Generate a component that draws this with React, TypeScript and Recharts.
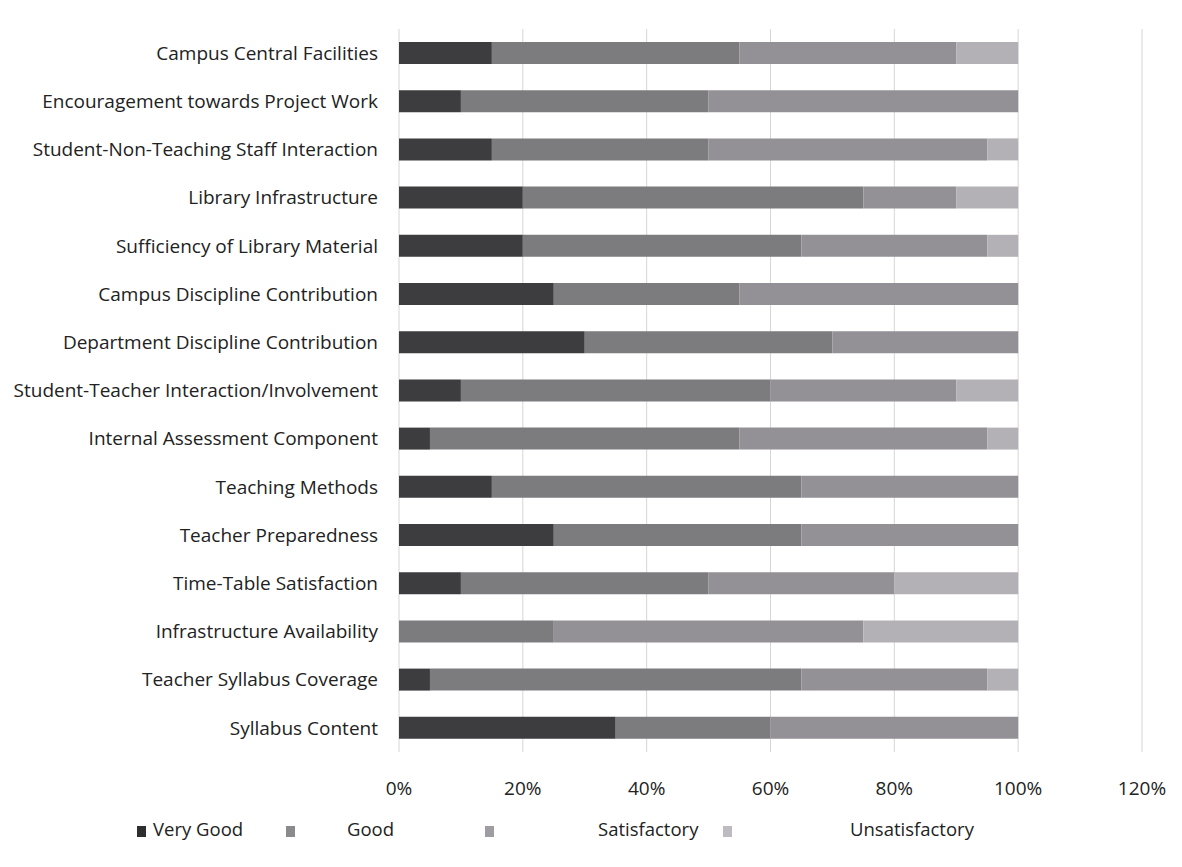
import React from "react";
import { BarChart, Bar, XAxis, YAxis, CartesianGrid, Legend } from "recharts";

const categories = [
  "Campus Central Facilities",
  "Encouragement towards Project Work",
  "Student-Non-Teaching Staff Interaction",
  "Library Infrastructure",
  "Sufficiency of Library Material",
  "Campus Discipline Contribution",
  "Department Discipline Contribution",
  "Student-Teacher Interaction/Involvement",
  "Internal Assessment Component",
  "Teaching Methods",
  "Teacher Preparedness",
  "Time-Table Satisfaction",
  "Infrastructure Availability",
  "Teacher Syllabus Coverage",
  "Syllabus Content",
];

const veryGood = [15, 10, 15, 20, 20, 25, 30, 10, 5, 15, 25, 10, 0, 5, 35];
const good = [40, 40, 35, 55, 45, 30, 40, 50, 50, 50, 40, 40, 25, 60, 25];
const satisfactory = [35, 50, 45, 15, 30, 45, 30, 30, 40, 35, 35, 30, 50, 30, 40];
const unsatisfactory = [10, 0, 5, 10, 5, 0, 0, 10, 5, 0, 0, 20, 25, 5, 0];

const xTicks = [0, 20, 40, 60, 80, 100, 120];

const seriesNames = ["Very Good", "Good", "Satisfactory", "Unsatisfactory"];
const seriesColors = ["#3d3c3f", "#7c7b7e", "#939096", "#b4b1b6"];
const legendSwatch = ["#2e2d30", "#8a898c", "#a09da2", "#bdbbbf"];

const data = categories.map((name, i) => ({
  name,
  vg: veryGood[i],
  g: good[i],
  s: satisfactory[i],
  u: unsatisfactory[i],
}));

const FONT = "'Open Sans', sans-serif";

const legendLayout = [
  { sq: 129, tx: 145 },
  { sq: 278, tx: 339 },
  { sq: 477, tx: 590 },
  { sq: 715, tx: 842 },
];

const renderLegend = () => (
  <div style={{ position: "relative", width: 1166, height: 40, fontFamily: FONT, fontSize: 18.5, color: "#222" }}>
    {seriesNames.map((n, i) => (
      <React.Fragment key={n}>
        <div
          style={{
            position: "absolute",
            left: legendLayout[i].sq,
            top: 17,
            width: 9,
            height: 11,
            background: legendSwatch[i],
          }}
        />
        <div style={{ position: "absolute", left: legendLayout[i].tx, top: 7, whiteSpace: "nowrap" }}>{n}</div>
      </React.Fragment>
    ))}
  </div>
);

export default function App() {
  return (
    <div style={{ background: "#fff" }}>
      <BarChart
        width={1166}
        height={851}
        data={data}
        layout="vertical"
        margin={{ top: 21, right: 32, left: 0, bottom: 10 }}
        barCategoryGap={0}
      >
        <CartesianGrid horizontal={false} stroke="#d6d6d6" />
        <XAxis
          type="number"
          domain={[0, 120]}
          ticks={xTicks}
          tickFormatter={(v) => `${v}%`}
          axisLine={false}
          tickLine={false}
          height={57}
          tickMargin={24}
          tick={{ fontFamily: FONT, fontSize: 19, fill: "#222" }}
          interval={0}
        />
        <YAxis
          type="category"
          dataKey="name"
          width={391}
          axisLine={false}
          tickLine={false}
          tickMargin={15}
          interval={0}
          tick={{ fontFamily: FONT, fontSize: 19, fill: "#222" }}
        />
        <Legend verticalAlign="bottom" height={40} content={renderLegend} />
        <Bar dataKey="vg" name="Very Good" stackId="a" fill={seriesColors[0]} barSize={22} isAnimationActive={false} />
        <Bar dataKey="g" name="Good" stackId="a" fill={seriesColors[1]} barSize={22} isAnimationActive={false} />
        <Bar dataKey="s" name="Satisfactory" stackId="a" fill={seriesColors[2]} barSize={22} isAnimationActive={false} />
        <Bar dataKey="u" name="Unsatisfactory" stackId="a" fill={seriesColors[3]} barSize={22} isAnimationActive={false} />
      </BarChart>
    </div>
  );
}
